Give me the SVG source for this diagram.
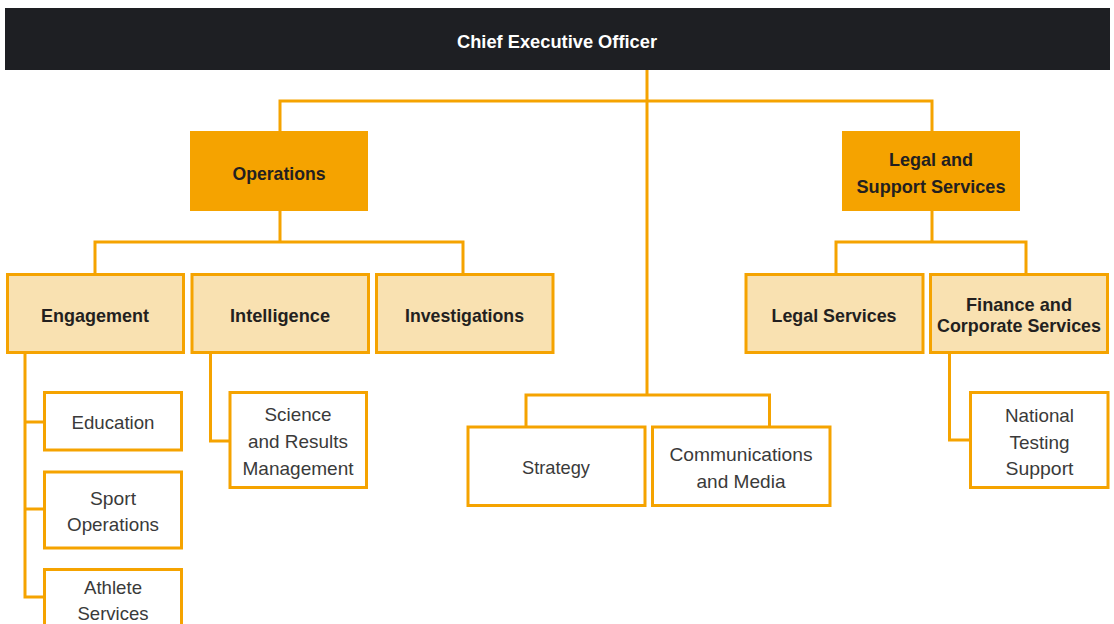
<svg xmlns="http://www.w3.org/2000/svg" width="1114" height="624" viewBox="0 0 1114 624">
  <style>
    .link { fill: none; stroke: #F5A300; stroke-width: 3; }
    .head { fill: #F5A300; }
    .unit { fill: #F9E1B1; stroke: #F5A300; stroke-width: 3; }
    .team { fill: #FFFFFF; stroke: #F5A300; stroke-width: 3; }
    text { font-family: "Liberation Sans", Arial, sans-serif; font-size: 19px; text-anchor: middle; }
    .b { font-weight: bold; fill: #231F20; }
    .r { fill: #3A3A3A; }
    .w { font-weight: bold; fill: #FFFFFF; }
  </style>

  <!-- reporting lines -->
  <g id="connectors">
    <path class="link" d="M647 70 V395"/>
    <path class="link" d="M280 131 V101 H932 V131"/>
    <path class="link" d="M280 211 V242 M95 273 V242 H463 V273"/>
    <path class="link" d="M932 211 V242 M836 273 V242 H1026 V273"/>
    <path class="link" d="M25 354 V597 H44 M25 422 H44 M25 509 H44"/>
    <path class="link" d="M210.5 354 V441 H229"/>
    <path class="link" d="M949.5 354 V440 H970"/>
    <path class="link" d="M526 426 V395 H769.5 V426"/>
  </g>

  <g id="ceo">
    <rect x="5" y="8" width="1105" height="62" fill="#1E1F23"/>
    <text class="w" x="557" y="47.5" textLength="200" lengthAdjust="spacingAndGlyphs">Chief Executive Officer</text>
  </g>

  <g id="operations">
    <rect class="head" x="190" y="131" width="178" height="80"/>
    <text class="b" x="279" y="180" textLength="93" lengthAdjust="spacingAndGlyphs">Operations</text>
  </g>

  <g id="legal-support">
    <rect class="head" x="842" y="131" width="178" height="80"/>
    <text class="b" x="931" y="166" textLength="84" lengthAdjust="spacingAndGlyphs">Legal and</text>
    <text class="b" x="931" y="192.5" textLength="149" lengthAdjust="spacingAndGlyphs">Support Services</text>
  </g>

  <g id="engagement">
    <rect class="unit" x="7.5" y="274.5" width="176" height="78"/>
    <text class="b" x="95" y="322" textLength="108" lengthAdjust="spacingAndGlyphs">Engagement</text>
  </g>

  <g id="intelligence">
    <rect class="unit" x="192" y="274.5" width="176.5" height="78"/>
    <text class="b" x="280" y="322" textLength="100" lengthAdjust="spacingAndGlyphs">Intelligence</text>
  </g>

  <g id="investigations">
    <rect class="unit" x="376.5" y="274.5" width="176.5" height="78"/>
    <text class="b" x="464.5" y="322" textLength="119" lengthAdjust="spacingAndGlyphs">Investigations</text>
  </g>

  <g id="legal-services">
    <rect class="unit" x="746" y="274.5" width="177" height="78"/>
    <text class="b" x="834" y="322" textLength="125" lengthAdjust="spacingAndGlyphs">Legal Services</text>
  </g>

  <g id="finance-corporate">
    <rect class="unit" x="930.5" y="274.5" width="177" height="78"/>
    <text class="b" x="1019" y="311" textLength="106" lengthAdjust="spacingAndGlyphs">Finance and</text>
    <text class="b" x="1019" y="332" textLength="164" lengthAdjust="spacingAndGlyphs">Corporate Services</text>
  </g>

  <g id="education">
    <rect class="team" x="44.5" y="392.5" width="137" height="57.5"/>
    <text class="r" x="113" y="429" textLength="83" lengthAdjust="spacingAndGlyphs">Education</text>
  </g>

  <g id="sport-operations">
    <rect class="team" x="44.5" y="472" width="137" height="76"/>
    <text class="r" x="113" y="505" textLength="46" lengthAdjust="spacingAndGlyphs">Sport</text>
    <text class="r" x="113" y="531" textLength="92" lengthAdjust="spacingAndGlyphs">Operations</text>
  </g>

  <g id="athlete-services">
    <rect class="team" x="44.5" y="569.5" width="137" height="70"/>
    <text class="r" x="113" y="593.5" textLength="58" lengthAdjust="spacingAndGlyphs">Athlete</text>
    <text class="r" x="113" y="619.5" textLength="71" lengthAdjust="spacingAndGlyphs">Services</text>
  </g>

  <g id="science-results">
    <rect class="team" x="230" y="392.5" width="136.5" height="95"/>
    <text class="r" x="298" y="421" textLength="67" lengthAdjust="spacingAndGlyphs">Science</text>
    <text class="r" x="298" y="448" textLength="100" lengthAdjust="spacingAndGlyphs">and Results</text>
    <text class="r" x="298" y="474.5" textLength="111" lengthAdjust="spacingAndGlyphs">Management</text>
  </g>

  <g id="strategy">
    <rect class="team" x="468" y="427" width="177" height="78.5"/>
    <text class="r" x="556" y="473.5" textLength="68" lengthAdjust="spacingAndGlyphs">Strategy</text>
  </g>

  <g id="communications-media">
    <rect class="team" x="652.5" y="427" width="177.5" height="78.5"/>
    <text class="r" x="741" y="461" textLength="143" lengthAdjust="spacingAndGlyphs">Communications</text>
    <text class="r" x="741" y="488" textLength="89" lengthAdjust="spacingAndGlyphs">and Media</text>
  </g>

  <g id="national-testing">
    <rect class="team" x="970.5" y="392.5" width="137.5" height="95"/>
    <text class="r" x="1039.5" y="422" textLength="69" lengthAdjust="spacingAndGlyphs">National</text>
    <text class="r" x="1039.5" y="448.5" textLength="60" lengthAdjust="spacingAndGlyphs">Testing</text>
    <text class="r" x="1039.5" y="475" textLength="68" lengthAdjust="spacingAndGlyphs">Support</text>
  </g>
</svg>
